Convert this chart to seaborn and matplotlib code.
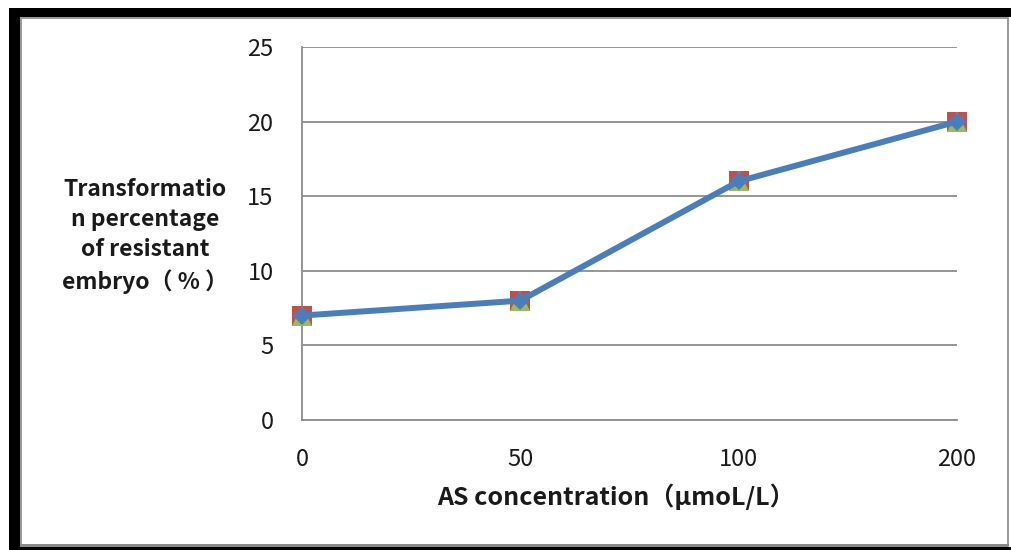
import matplotlib
matplotlib.use("Agg")
import matplotlib.pyplot as plt
import seaborn as sns
import pandas as pd
from matplotlib.patches import Rectangle

# ---- data ----
categories = ["0", "50", "100", "200"]
series_blue = [7, 8, 16, 20]
series_red = [7, 8, 16, 20]
series_green = [7, 8, 16, 20]
yticks = [0, 5, 10, 15, 20, 25]
xlabel = "AS concentration（μmoL/L）"
ylabel = "Transformatio\nn percentage\nof resistant\nembryo（ % ）"

sns.set_style("white")
plt.rcParams["font.family"] = ["Noto Sans CJK SC", "DejaVu Sans"]

W, H = 1011, 550
fig = plt.figure(figsize=(W / 100, H / 100), dpi=100)
fig.patch.set_facecolor("white")

def fx(px):
    return px / W

def fy(py):
    return 1 - py / H

ax = fig.add_axes([fx(302), fy(420), fx(957) - fx(302), fy(47) - fy(420)])

df = pd.DataFrame({"conc": categories, "blue": series_blue,
                   "red": series_red, "green": series_green})

grid_c = "#8c8c8c"
sns.lineplot(data=df, x="conc", y="red", ax=ax, sort=False, color="#C0504D",
             marker="s", markersize=14, markeredgewidth=0, linewidth=0,
             zorder=3, clip_on=False)
sns.lineplot(data=df, x="conc", y="green", ax=ax, sort=False, color="#9BBB59",
             marker="^", markersize=14, markeredgewidth=0, linewidth=0,
             zorder=4, clip_on=False)
sns.lineplot(data=df, x="conc", y="blue", ax=ax, sort=False, color="#4A7EBB",
             marker="D", markersize=9, markeredgewidth=0, linewidth=4.3,
             zorder=5, clip_on=False)

ax.set_xlim(0, len(categories) - 1)
ax.set_ylim(yticks[0], yticks[-1])
ax.set_yticks(yticks)
ax.set_yticklabels([str(t) for t in yticks])
ax.grid(axis="y", color=grid_c, linewidth=1.3)
ax.grid(axis="x", visible=False)
ax.set_axisbelow(True)
for s in ["top", "right"]:
    ax.spines[s].set_visible(False)
for s in ["left", "bottom"]:
    ax.spines[s].set_color(grid_c)
    ax.spines[s].set_linewidth(1.3)

ax.tick_params(axis="both", direction="out", length=7.5, width=1.3,
               color=grid_c, labelsize=17, labelcolor="#1a1a1a")
ax.tick_params(axis="y", pad=13)
ax.tick_params(axis="x", pad=13)
ax.set_xlabel("")
ax.set_ylabel("")

fig.text(fx(616), fy(497), xlabel, ha="center", va="center",
         fontsize=18, fontweight="bold", color="#1a1a1a")
fig.text(fx(145), fy(236), ylabel, ha="center", va="center",
         multialignment="center", fontsize=16.5, fontweight="bold",
         color="#1a1a1a", linespacing=1.4)

# ---- frame decorations ----
def rect(x0, y0, x1, y1, color):
    fig.patches.append(Rectangle((fx(x0), fy(y1)), fx(x1) - fx(x0),
                                 fy(y0) - fy(y1), transform=fig.transFigure,
                                 facecolor=color, edgecolor="none",
                                 zorder=0))

rect(9, 8, W, 17, "black")        # top band
rect(9, 8, 20, H, "black")        # left band
rect(9, 547, W, H, "black")       # bottom line
rect(20, 17, W - 3, 19, "#9a9a9a")  # inner top
rect(20, 17, 22, 547, "#9a9a9a")    # inner left
rect(W - 4, 17, W - 2, 547, "#9a9a9a")  # inner right
rect(20, 544, W - 2, 547, "#8a8a8a")    # inner bottom

fig.savefig("out.png", dpi=100, facecolor="white")
